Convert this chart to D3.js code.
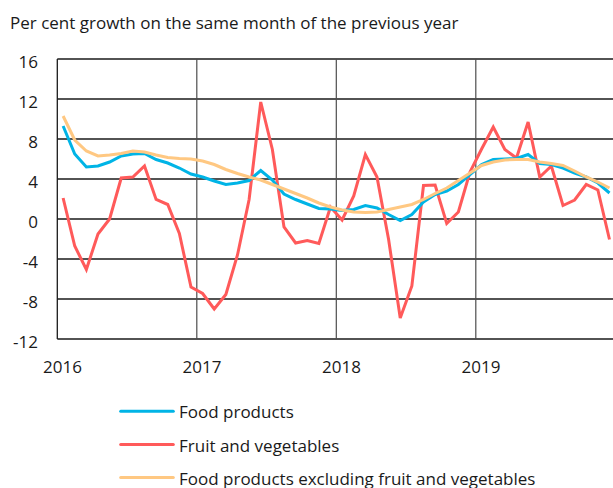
<!DOCTYPE html>
<html>
<head>
<meta charset="utf-8">
<script src="https://cdn.jsdelivr.net/npm/d3@7"></script>
<style>
  html, body { margin: 0; padding: 0; background: #fff; }
  svg { display: block; }
  text { font-family: "Open Sans", "Noto Sans", sans-serif; fill: #1a1a1a; }
</style>
</head>
<body>
<svg id="chart" width="613" height="488"></svg>
<script>
// ---- Data (monthly, Jan 2016 – Dec 2019) ----
const years = ["2016", "2017", "2018", "2019"];
const yTicks = [16, 12, 8, 4, 0, -4, -8, -12];
const titleText = "Per cent growth on the same month of the previous year";
const seriesNames = ["Food products", "Fruit and vegetables", "Food products excluding fruit and vegetables"];

const foodProducts = [
  9.3, 6.5, 5.2, 5.3, 5.7, 6.3, 6.5, 6.55, 5.95, 5.6, 5.1, 4.5,
  4.2, 3.8, 3.45, 3.6, 3.85, 4.85, 3.9, 2.5, 1.95, 1.5, 1.05, 1.0,
  0.85, 0.95, 1.35, 1.1, 0.45, -0.15, 0.45, 1.7, 2.45, 2.8, 3.45, 4.45,
  5.45, 5.95, 6.0, 6.05, 6.45, 5.55, 5.45, 5.1, 4.6, 4.2, 3.6, 2.6
];
const fruitVeg = [
  2.1, -2.7, -5.05, -1.5, 0.0, 4.1, 4.2, 5.3, 1.95, 1.45, -1.45, -6.8,
  -7.45, -9.0, -7.55, -3.6, 1.95, 11.7, 6.95, -0.8, -2.4, -2.15, -2.45, 1.2,
  -0.1, 2.3, 6.45, 4.2, -2.05, -9.9, -6.7, 3.35, 3.4, -0.45, 0.7, 4.7,
  7.0, 9.2, 6.95, 6.1, 9.7, 4.2, 5.3, 1.35, 1.9, 3.45, 2.9, -2.05
];
const foodExclFV = [
  10.3, 7.9, 6.8, 6.3, 6.4, 6.55, 6.8, 6.7, 6.4, 6.15, 6.05, 6.0,
  5.8, 5.45, 4.95, 4.55, 4.2, 3.9, 3.45, 3.0, 2.55, 2.1, 1.6, 1.2,
  0.9, 0.7, 0.65, 0.7, 0.95, 1.2, 1.45, 1.95, 2.55, 3.1, 3.85, 4.6,
  5.35, 5.7, 5.9, 5.95, 5.95, 5.7, 5.55, 5.35, 4.8, 4.2, 3.7, 3.1
];
const seriesColors = ["#00b4e6", "#ff5a5a", "#ffc882"];

// ---- Layout ----
const svg = d3.select("#chart");
const plotLeft = 57.3, plotRight = 615.3, plotTop = 59, plotBottom = 339;

const x = d3.scaleLinear().domain([0, 48]).range([plotLeft, plotRight]);
const y = d3.scaleLinear().domain([-12, 16]).range([plotBottom, plotTop]);

// Title
svg.append("text")
  .attr("x", 10).attr("y", 29)
  .attr("font-size", 17)
  .text(titleText);

// Horizontal gridlines
svg.append("g").selectAll("line").data(yTicks).join("line")
  .attr("x1", plotLeft).attr("x2", 613)
  .attr("y1", d => y(d)).attr("y2", d => y(d))
  .attr("stroke", "#1a1a1a").attr("stroke-width", 1.3);

// Vertical year lines
svg.append("g").selectAll("line").data(years.slice(1)).join("line")
  .attr("x1", (d, i) => x((i + 1) * 12)).attr("x2", (d, i) => x((i + 1) * 12))
  .attr("y1", plotTop).attr("y2", plotBottom)
  .attr("stroke", "#4d4d4d").attr("stroke-width", 1.2);

// Left axis line
svg.append("line")
  .attr("x1", plotLeft).attr("x2", plotLeft).attr("y1", plotTop).attr("y2", plotBottom)
  .attr("stroke", "#1a1a1a").attr("stroke-width", 1.3);

// Y tick labels
svg.append("g").selectAll("text").data(yTicks).join("text")
  .attr("x", 38).attr("y", d => y(d) + 9.3)
  .attr("text-anchor", "end")
  .attr("font-size", 17)
  .text(d => d);

// X year labels
svg.append("g").selectAll("text").data(years).join("text")
  .attr("x", (d, i) => x(i * 12 + 0.45))
  .attr("y", 373)
  .attr("text-anchor", "middle")
  .attr("font-size", 17)
  .text(d => d);

// Lines
const allSeries = [foodProducts, fruitVeg, foodExclFV];
const line = d3.line().x((d, i) => x(i + 0.5)).y(d => y(d));
const drawOrder = [1, 0, 2];
svg.append("g").selectAll("path").data(drawOrder).join("path")
  .attr("d", k => line(allSeries[k]))
  .attr("fill", "none")
  .attr("stroke", k => seriesColors[k])
  .attr("stroke-width", 3)
  .attr("stroke-linejoin", "miter")
  .attr("stroke-miterlimit", 3);

// Legend
const legendY = [411.3, 444.5, 477.5];
const lg = svg.append("g").selectAll("g").data(seriesNames).join("g")
  .attr("transform", (d, i) => `translate(0,${legendY[i]})`);
lg.append("line")
  .attr("x1", 120.7).attr("x2", 173.3).attr("y1", 0).attr("y2", 0)
  .attr("stroke", (d, i) => seriesColors[i]).attr("stroke-width", 3)
  .attr("stroke-linecap", "round");
lg.append("text")
  .attr("x", 179).attr("y", 7)
  .attr("font-size", 17)
  .text(d => d);
</script>
</body>
</html>
